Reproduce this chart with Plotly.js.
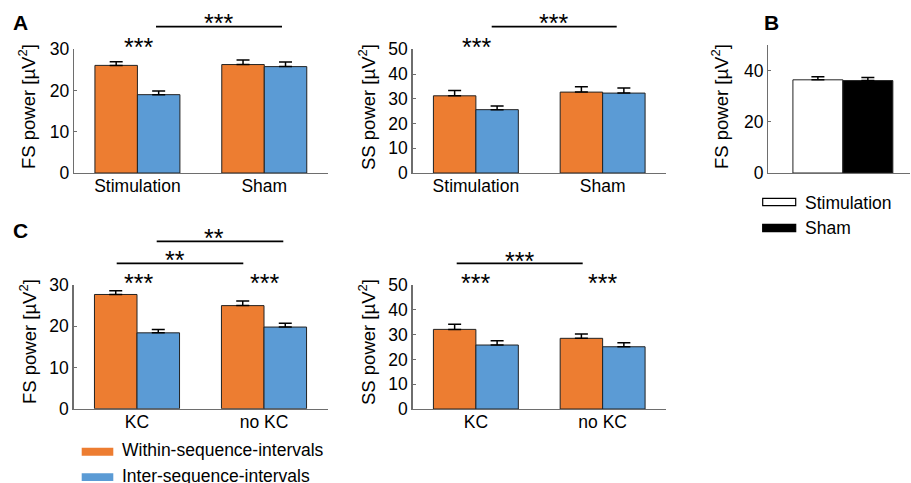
<!DOCTYPE html>
<html>
<head>
<meta charset="utf-8">
<script src="https://cdn.plot.ly/plotly-3.0.1.min.js"></script>
<style>html,body{margin:0;padding:0;background:#fff;}#chart{width:911px;height:483px;}</style>
</head>
<body>
<div id="chart"></div>
<script>
// ---------- data ----------
const groupsA = ['Stimulation', 'Sham'];
const fsWithinA = [26.1, 26.3];
const fsWithinAErr = [0.9, 1.1];
const fsInterA = [19.0, 25.8];
const fsInterAErr = [0.9, 1.1];
const ssWithinA = [31.2, 32.7];
const ssWithinAErr = [2.1, 2.2];
const ssInterA = [25.6, 32.3];
const ssInterAErr = [1.5, 2.1];

const groupB = ['all'];
const fsStimB = [36.4];
const fsStimBErr = [1.2];
const fsShamB = [36.1];
const fsShamBErr = [1.2];

const groupsC = ['KC', 'no KC'];
const fsWithinC = [27.7, 25.0];
const fsWithinCErr = [0.9, 1.1];
const fsInterC = [18.4, 19.8];
const fsInterCErr = [0.8, 0.9];
const ssWithinC = [32.1, 28.5];
const ssWithinCErr = [2.1, 1.7];
const ssInterC = [25.8, 25.1];
const ssInterCErr = [1.7, 1.6];

const seriesNames = ['Within-sequence-intervals', 'Inter-sequence-intervals'];
const bNames = ['Stimulation', 'Sham'];
const yTitleFS = 'FS power [µV<sup>2</sup>]';
const yTitleSS = 'SS power [µV<sup>2</sup>]';

// ---------- style ----------
const W = 911, H = 483;
const px = x => x / W;
const py = y => 1 - y / H;
const FONT = 'Arial, "Liberation Sans", sans-serif';
const ORANGE = '#ED7D31';
const BLUE = '#5B9BD5';
const AXC = '#6e6e6e';
const FS = 17.5;

function bar(x, y, err, color, xa, ya, name) {
  return {
    type: 'bar', x: x, y: y, name: name, xaxis: xa, yaxis: ya,
    marker: {color: color, line: {color: '#222', width: 1}},
    error_y: {type: 'data', symmetric: false, array: err, arrayminus: err.map(() => 0),
              color: '#000', thickness: 1.5, width: 6.5},
    hoverinfo: 'x+y'
  };
}

const data = [
  bar(groupsA, fsWithinA, fsWithinAErr, ORANGE, 'x', 'y', seriesNames[0]),
  bar(groupsA, fsInterA, fsInterAErr, BLUE, 'x', 'y', seriesNames[1]),
  bar(groupsA, ssWithinA, ssWithinAErr, ORANGE, 'x2', 'y2', seriesNames[0]),
  bar(groupsA, ssInterA, ssInterAErr, BLUE, 'x2', 'y2', seriesNames[1]),
  bar(groupB, fsStimB, fsStimBErr, '#ffffff', 'x3', 'y3', bNames[0]),
  bar(groupB, fsShamB, fsShamBErr, '#000000', 'x3', 'y3', bNames[1]),
  bar(groupsC, fsWithinC, fsWithinCErr, ORANGE, 'x4', 'y4', seriesNames[0]),
  bar(groupsC, fsInterC, fsInterCErr, BLUE, 'x4', 'y4', seriesNames[1]),
  bar(groupsC, ssWithinC, ssWithinCErr, ORANGE, 'x5', 'y5', seriesNames[0]),
  bar(groupsC, ssInterC, ssInterCErr, BLUE, 'x5', 'y5', seriesNames[1])
];

function xax(d0, d1, range, anchor, showLabels) {
  return {
    domain: [px(d0), px(d1)], range: range, type: 'category', anchor: anchor,
    showline: true, linecolor: AXC, linewidth: 1.3, ticks: '', showgrid: false, zeroline: false,
    showticklabels: showLabels, ticklabelstandoff: -3,
    tickfont: {family: FONT, size: FS, color: '#000'}, fixedrange: true
  };
}
function yax(p0, p1, range, dtick, anchor) {
  return {
    domain: [py(p0), py(p1)], range: range, dtick: dtick, anchor: anchor,
    showline: true, linecolor: AXC, linewidth: 1.3, ticks: 'inside', ticklen: 3, tickcolor: AXC,
    showgrid: false, zeroline: false, tickfont: {family: FONT, size: FS, color: '#000'}, fixedrange: true
  };
}

const shapes = [];
const annotations = [];
function line(x0, x1, y) {
  shapes.push({type: 'line', xref: 'paper', yref: 'paper', x0: px(x0), x1: px(x1), y0: py(y), y1: py(y),
               line: {color: '#000', width: 1.8}});
}
function txt(x, y, t, opts) {
  annotations.push(Object.assign({xref: 'paper', yref: 'paper', x: px(x), y: py(y), text: t,
    showarrow: false, xanchor: 'center', yanchor: 'middle',
    font: {family: FONT, size: FS, color: '#000'}}, opts || {}));
}
function stars(x, y, t) { txt(x, y + 3.5, t, {font: {family: FONT, size: 25, color: '#000'}}); }
function ytitle(x, y, t) { txt(x, y, t, {textangle: -90, font: {family: FONT, size: 18.5, color: '#000'}}); }
function panel(x, y, t) { txt(x, y, '<b>' + t + '</b>', {font: {family: FONT, size: 21, color: '#000'}}); }
function swatch(x0, x1, y0, y1, fill, lineColor) {
  shapes.push({type: 'rect', xref: 'paper', yref: 'paper', x0: px(x0), x1: px(x1), y0: py(y1), y1: py(y0),
               fillcolor: fill, line: {color: lineColor, width: lineColor ? 1.2 : 0}});
}

// panel labels
panel(20, 22, 'A'); panel(771, 22, 'B'); panel(20, 230, 'C');
// y titles
ytitle(27, 107, yTitleFS); ytitle(367, 107, yTitleSS); ytitle(720, 107, yTitleFS);
ytitle(28, 342, yTitleFS); ytitle(367, 342, yTitleSS);
// significance A
stars(138, 43, '***'); line(156, 282, 26.7); stars(218, 19.7, '***');
stars(476, 43, '***'); line(491.7, 616.7, 26.7); stars(553.5, 19.7, '***');
// significance C
line(156.7, 283.3, 241.3); stars(214, 234, '**');
line(116.7, 243.3, 263.3); stars(174.5, 256.5, '**');
stars(138, 279, '***'); stars(264.7, 279, '***');
line(456.7, 582.7, 263.3); stars(519.5, 257, '***');
stars(475.3, 279, '***'); stars(602.8, 279, '***');
// legend B
swatch(762.7, 795.7, 198.3, 205.7, '#ffffff', '#000');
swatch(762.7, 795.7, 224.3, 231.7, '#000000', '#000');
txt(803, 203, bNames[0], {xanchor: 'left'});
txt(803, 228, bNames[1], {xanchor: 'left'});
// legend C
swatch(81.7, 113.3, 447.7, 455.7, ORANGE, null);
swatch(81.7, 113.3, 473.3, 481, BLUE, null);
txt(120, 450, seriesNames[0], {xanchor: 'left'});
txt(120, 476, seriesNames[1], {xanchor: 'left'});

const layout = {
  width: W, height: H, margin: {l: 0, r: 0, t: 0, b: 0, pad: 0},
  paper_bgcolor: '#fff', plot_bgcolor: '#fff', showlegend: false,
  barmode: 'group', bargap: 0.33, bargroupgap: 0,
  font: {family: FONT, size: FS, color: '#000'},
  xaxis: xax(74, 327.7, [-0.5, 1.5], 'y', true),
  yaxis: yax(173, 49.3, [0, 30], 10, 'x'),
  xaxis2: xax(412.5, 666, [-0.5, 1.5], 'y2', true),
  yaxis2: yax(173, 49.3, [0, 50], 10, 'x2'),
  xaxis3: xax(768.3, 910, [-0.5, 0.45], 'y3', false),
  yaxis3: yax(173, 45, [0, 50], 20, 'x3'),
  xaxis4: xax(73.5, 327.5, [-0.5, 1.5], 'y4', true),
  yaxis4: yax(408.7, 285, [0, 30], 10, 'x4'),
  xaxis5: xax(412.5, 666, [-0.5, 1.5], 'y5', true),
  yaxis5: yax(409, 285, [0, 50], 10, 'x5'),
  shapes: shapes,
  annotations: annotations
};

Plotly.newPlot('chart', data, layout, {displayModeBar: false, staticPlot: true});
</script>
</body>
</html>
